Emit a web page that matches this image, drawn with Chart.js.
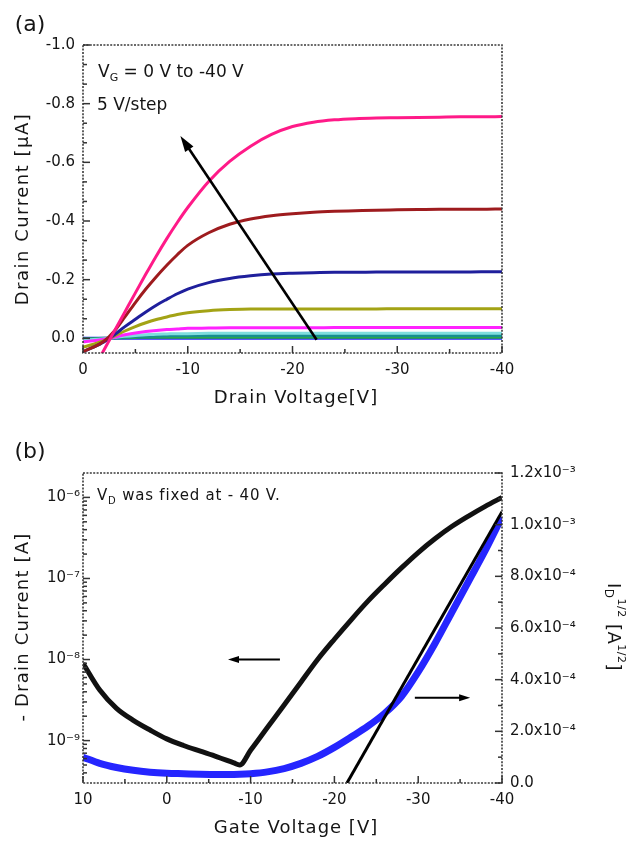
<!DOCTYPE html>
<html>
<head>
<meta charset="utf-8">
<script src="https://cdn.jsdelivr.net/npm/chart.js@4.4.1/dist/chart.umd.min.js"></script>
<style>
  html, body { margin: 0; padding: 0; background: #fff; overflow: hidden; }
  #wrap { position: relative; width: 635px; height: 843px; }
  canvas { position: absolute; left: 0; }
  #chartA { top: 0; }
  #chartB { top: 421px; }
</style>
</head>
<body>
<div id="wrap">
  <canvas id="chartA" width="635" height="421"></canvas>
  <canvas id="chartB" width="635" height="422"></canvas>
</div>
<script>
// ---------- panel (a): output curves, VG = 0 V .. -40 V ----------
const drainVoltage = [0, -1, -2, -3, -4, -5, -6, -7, -8, -9, -10, -12, -14, -16, -18, -20, -22, -24, -26, -28, -30, -32, -34, -36, -38, -40];
const idVg40 = [0.17, 0.105, 0.04, -0.025, -0.09, -0.155, -0.219, -0.281, -0.34, -0.395, -0.446, -0.535, -0.603, -0.655, -0.695, -0.722, -0.737, -0.745, -0.749, -0.751, -0.752, -0.753, -0.754, -0.755, -0.755, -0.756];
const idVg35 = [0.045, 0.03, 0.01, -0.025, -0.073, -0.122, -0.168, -0.21, -0.249, -0.285, -0.317, -0.36, -0.389, -0.407, -0.418, -0.425, -0.43, -0.433, -0.435, -0.437, -0.438, -0.439, -0.44, -0.44, -0.44, -0.441];
const idVg30 = [0.045, 0.03, 0.012, -0.012, -0.04, -0.065, -0.09, -0.113, -0.133, -0.152, -0.168, -0.19, -0.204, -0.213, -0.219, -0.222, -0.224, -0.225, -0.225, -0.226, -0.226, -0.226, -0.226, -0.226, -0.227, -0.227];
const idVg25 = [0.03, 0.02, 0.008, -0.008, -0.025, -0.04, -0.053, -0.064, -0.073, -0.081, -0.087, -0.094, -0.098, -0.1, -0.1, -0.1, -0.1, -0.1, -0.1, -0.1, -0.101, -0.101, -0.101, -0.101, -0.101, -0.101];
const idVg20 = [0.012, 0.008, 0.003, -0.004, -0.012, -0.018, -0.023, -0.027, -0.03, -0.032, -0.034, -0.035, -0.036, -0.036, -0.036, -0.036, -0.036, -0.037, -0.037, -0.037, -0.037, -0.037, -0.037, -0.037, -0.037, -0.037];
const idVg15 = [0.006, 0.004, 0.001, -0.003, -0.007, -0.01, -0.012, -0.014, -0.015, -0.016, -0.016, -0.017, -0.017, -0.017, -0.017, -0.017, -0.017, -0.017, -0.017, -0.017, -0.017, -0.017, -0.017, -0.017, -0.017, -0.017];
const idVg10 = [0.004, 0.003, 0.001, -0.002, -0.004, -0.006, -0.007, -0.008, -0.009, -0.01, -0.01, -0.01, -0.01, -0.01, -0.01, -0.01, -0.01, -0.01, -0.01, -0.01, -0.01, -0.01, -0.01, -0.01, -0.01, -0.01];
const idVg5 = [0.002, 0.001, 0.0, -0.001, -0.002, -0.003, -0.004, -0.004, -0.004, -0.004, -0.004, -0.004, -0.004, -0.004, -0.004, -0.004, -0.004, -0.004, -0.004, -0.004, -0.004, -0.004, -0.004, -0.004, -0.004, -0.004];
const idVg0 = [0.0, 0.0, 0.0, 0.0, 0.0, 0.0, 0.0, 0.0, 0.0, 0.0, 0.0, 0.0, 0.0, 0.0, 0.0, 0.0, 0.0, 0.0, 0.0, 0.0, 0.0, 0.0, 0.0, 0.0, 0.0, 0.0];
const drainTicks = [0, -10, -20, -30, -40];
const currentTicksA = [-1.0, -0.8, -0.6, -0.4, -0.2, 0.0];
const stepArrow = { fromV: -22.3, fromI: 0.005, toV: -9.3, toI: -0.69 };

// ---------- panel (b): transfer curve at VD = -40 V ----------
const gateVoltage = [10, 8, 6, 4, 2, 0, -2, -4, -6, -8, -8.7, -10, -12, -14, -16, -18, -20, -22, -24, -26, -28, -30, -32, -34, -36, -38, -40];
const drainCurrent = [9e-9, 4.2e-9, 2.5e-9, 1.78e-9, 1.35e-9, 1.05e-9, 8.7e-10, 7.4e-10, 6.3e-10, 5.3e-10, 5.0e-10, 7.6e-10, 1.45e-9, 2.75e-9, 5.25e-9, 1.0e-8, 1.78e-8, 3.09e-8, 5.25e-8, 8.5e-8, 1.35e-7, 2.09e-7, 3.09e-7, 4.37e-7, 5.89e-7, 7.76e-7, 1.0e-6];
const sqrtCurrent = [1.0e-4, 7.6e-5, 6.0e-5, 4.9e-5, 4.2e-5, 3.8e-5, 3.6e-5, 3.4e-5, 3.3e-5, 3.3e-5, 3.35e-5, 3.6e-5, 4.3e-5, 5.6e-5, 7.6e-5, 1.03e-4, 1.38e-4, 1.78e-4, 2.2e-4, 2.7e-4, 3.35e-4, 4.3e-4, 5.4e-4, 6.6e-4, 7.8e-4, 9.0e-4, 1.03e-3];
const fitGate = [-21.5, -40];
const fitSqrt = [0, 1.05e-3];
const gateTicks = [10, 0, -10, -20, -30, -40];
const logTicks = [1e-9, 1e-8, 1e-7, 1e-6];
const sqrtTicks = [0, 2e-4, 4e-4, 6e-4, 8e-4, 1.0e-3, 1.2e-3];
const leftArrow = { fromV: -13.5, toV: -7.3, current: 1.0e-8 };
const rightArrow = { fromV: -29.6, toV: -36.2, sqrtI: 3.3e-4 };

const FONT = '"DejaVu Sans", sans-serif';
const INK = '#151515';

const SUP = { '-': '\u207B', '0': '\u2070', '1': '\u00B9', '2': '\u00B2', '3': '\u00B3', '4': '\u2074', '5': '\u2075', '6': '\u2076', '7': '\u2077', '8': '\u2078', '9': '\u2079' };
const sup = s => String(s).split('').map(c => SUP[c] || c).join('');

const pts = (xs, ys) => xs.map((x, i) => ({ x: x, y: ys[i] }));

// text made of pieces: [text, size, dy]
function drawRich(ctx, x, y, parts, opt) {
  opt = opt || {};
  ctx.save();
  ctx.translate(x, y);
  if (opt.rotate) ctx.rotate(opt.rotate);
  ctx.letterSpacing = (opt.spacing || 0) + 'px';
  ctx.fillStyle = INK;
  ctx.textBaseline = opt.baseline || 'alphabetic';
  let w = 0;
  parts.forEach(p => { ctx.font = p[1] + 'px ' + FONT; w += ctx.measureText(p[0]).width; });
  let cx = opt.center ? -w / 2 : 0;
  parts.forEach(p => {
    ctx.font = p[1] + 'px ' + FONT;
    ctx.fillText(p[0], cx, p[2] || 0);
    cx += ctx.measureText(p[0]).width;
  });
  ctx.restore();
}

function tickMarks(ctx, scale, values, len, side) {
  const a = scale.chart.chartArea;
  values.forEach(v => {
    const p = scale.getPixelForValue(v);
    ctx.beginPath();
    if (side === 'bottom') { ctx.moveTo(p, a.bottom); ctx.lineTo(p, a.bottom - len); }
    if (side === 'left') { ctx.moveTo(a.left, p); ctx.lineTo(a.left + len, p); }
    if (side === 'right') { ctx.moveTo(a.right, p); ctx.lineTo(a.right - len, p); }
    ctx.stroke();
  });
}

function frame(ctx, a) {
  ctx.save();
  ctx.strokeStyle = '#3a3a3a';
  ctx.lineWidth = 1.6;
  ctx.setLineDash([2, 1.4]);
  ctx.strokeRect(a.left, a.top, a.right - a.left, a.bottom - a.top);
  ctx.restore();
}

function arrow(ctx, x1, y1, x2, y2, head, width, lw) {
  const ang = Math.atan2(y2 - y1, x2 - x1);
  ctx.save();
  ctx.strokeStyle = '#000';
  ctx.fillStyle = '#000';
  ctx.lineWidth = lw;
  ctx.beginPath();
  ctx.moveTo(x1, y1);
  ctx.lineTo(x2 - Math.cos(ang) * head * 0.7, y2 - Math.sin(ang) * head * 0.7);
  ctx.stroke();
  ctx.beginPath();
  ctx.moveTo(x2, y2);
  ctx.lineTo(x2 - head * Math.cos(ang) + width * Math.sin(ang), y2 - head * Math.sin(ang) - width * Math.cos(ang));
  ctx.lineTo(x2 - head * Math.cos(ang) - width * Math.sin(ang), y2 - head * Math.sin(ang) + width * Math.cos(ang));
  ctx.closePath();
  ctx.fill();
  ctx.restore();
}

const tickFont = { family: FONT, size: 15 };

const decorA = {
  id: 'decorA',
  afterDatasetsDraw(chart) {
    const ctx = chart.ctx, a = chart.chartArea;
    const x = chart.scales.x, y = chart.scales.y;
    frame(ctx, a);
    ctx.save();
    ctx.strokeStyle = '#333';
    ctx.lineWidth = 1.5;
    tickMarks(ctx, x, drainTicks, 7, 'bottom');
    const minorX = [], minorY = [];
    for (let v = -5; v > -40; v -= 10) minorX.push(v);
    for (let i = 1; i < 15; i++) if (i % 3) minorY.push(-1 + i / 15);
    tickMarks(ctx, x, minorX, 4, 'bottom');
    tickMarks(ctx, y, currentTicksA, 7, 'left');
    tickMarks(ctx, y, minorY, 4, 'left');
    ctx.restore();

    arrow(ctx, x.getPixelForValue(stepArrow.fromV), y.getPixelForValue(stepArrow.fromI),
      x.getPixelForValue(stepArrow.toV), y.getPixelForValue(stepArrow.toI), 16, 5, 2.6);

    drawRich(ctx, 30, 25, [['(a)', 22]], { center: true, baseline: 'middle' });
    drawRich(ctx, 98, 77, [['V', 17], ['G', 11, 4], [' = 0 V to -40 V', 17]]);
    drawRich(ctx, 97, 110, [['5 V/step', 17]]);
    drawRich(ctx, 23, 209, [['Drain Current [\u00B5A]', 18]], { center: true, baseline: 'middle', rotate: -Math.PI / 2, spacing: 1.5 });
    drawRich(ctx, 296, 398, [['Drain Voltage[V]', 18]], { center: true, baseline: 'middle', spacing: 1 });
  }
};

const curvesA = [
  { data: idVg40, color: '#ff1a88' },
  { data: idVg35, color: '#9e1b1e' },
  { data: idVg30, color: '#1f1f9c' },
  { data: idVg25, color: '#a3a315' },
  { data: idVg20, color: '#ff22ff' },
  { data: idVg15, color: '#7fdede' },
  { data: idVg10, color: '#178f8f' },
  { data: idVg5, color: '#2aa84a' },
  { data: idVg0, color: '#2323ff' }
];

new Chart(document.getElementById('chartA'), {
  type: 'line',
  data: {
    datasets: curvesA.map(c => ({
      data: pts(drainVoltage, c.data),
      borderColor: c.color,
      borderWidth: 3,
      pointRadius: 0,
      cubicInterpolationMode: 'monotone'
    }))
  },
  options: {
    responsive: false,
    animation: false,
    devicePixelRatio: 1,
    layout: { padding: { top: 45, right: 133, left: 0, bottom: 0 } },
    plugins: { legend: { display: false }, tooltip: { enabled: false } },
    scales: {
      x: {
        type: 'linear', min: -40, max: 0, reverse: true,
        grid: { display: false, drawTicks: false }, border: { display: false },
        afterBuildTicks: s => { s.ticks = drainTicks.map(v => ({ value: v })); },
        afterFit: s => { s.height = 68; },
        ticks: { padding: 8, font: tickFont, color: INK, maxRotation: 0, autoSkip: false, callback: v => String(v) }
      },
      y: {
        type: 'linear', min: -1.0, max: 0.05, reverse: true,
        grid: { display: false, drawTicks: false }, border: { display: false },
        afterBuildTicks: s => { s.ticks = currentTicksA.map(v => ({ value: v })); },
        afterFit: s => { s.width = 83; },
        ticks: { padding: 8, font: tickFont, color: INK, autoSkip: false, callback: v => v.toFixed(1) }
      }
    }
  },
  plugins: [decorA]
});

const decorB = {
  id: 'decorB',
  afterDatasetsDraw(chart) {
    const ctx = chart.ctx, a = chart.chartArea;
    const x = chart.scales.x, yl = chart.scales.y, yr = chart.scales.y2;
    frame(ctx, a);
    ctx.save();
    ctx.strokeStyle = '#333';
    ctx.lineWidth = 1.5;
    const minorX = [], minorLog = [], minorR = [];
    for (let v = 5; v > -40; v -= 10) minorX.push(v);
    for (let e = -10; e <= -6; e++) for (let m = 2; m <= 9; m++) {
      const v = m * Math.pow(10, e);
      if (v > yl.min && v < yl.max) minorLog.push(v);
    }
    for (let i = 1; i < 12; i += 2) minorR.push(i * 1e-4);
    tickMarks(ctx, x, gateTicks, 7, 'bottom');
    tickMarks(ctx, x, minorX, 4, 'bottom');
    tickMarks(ctx, yl, logTicks, 7, 'left');
    tickMarks(ctx, yl, minorLog, 4, 'left');
    tickMarks(ctx, yr, sqrtTicks, 7, 'right');
    tickMarks(ctx, yr, minorR, 4, 'right');
    ctx.restore();

    const ly = yl.getPixelForValue(leftArrow.current);
    arrow(ctx, x.getPixelForValue(leftArrow.fromV), ly, x.getPixelForValue(leftArrow.toV), ly, 11, 3.5, 2);
    const ry = yr.getPixelForValue(rightArrow.sqrtI);
    arrow(ctx, x.getPixelForValue(rightArrow.fromV), ry, x.getPixelForValue(rightArrow.toV), ry, 11, 3.5, 2);

    drawRich(ctx, 30, 31, [['(b)', 22]], { center: true, baseline: 'middle' });
    drawRich(ctx, 97, 79, [['V', 15], ['D', 10, 4], [' was fixed at - 40 V.', 15]], { spacing: 0.8 });
    drawRich(ctx, 23, 206, [['- Drain Current [A]', 18]], { center: true, baseline: 'middle', rotate: -Math.PI / 2, spacing: 1.2 });
    drawRich(ctx, 296, 407, [['Gate Voltage [V]', 18]], { center: true, baseline: 'middle', spacing: 1 });
    drawRich(ctx, 613, 206, [['I', 18], ['D', 12, 5], ['1/2', 11, -8], [' [A', 18], ['1/2', 11, -8], [']', 18]],
      { center: true, baseline: 'middle', rotate: Math.PI / 2, spacing: 0.5 });
  }
};

new Chart(document.getElementById('chartB'), {
  type: 'line',
  data: {
    datasets: [
      { data: pts(fitGate, fitSqrt), yAxisID: 'y2', borderColor: '#000', borderWidth: 3, pointRadius: 0 },
      { data: pts(gateVoltage, sqrtCurrent), yAxisID: 'y2', borderColor: '#2525ff', borderWidth: 7, pointRadius: 0, cubicInterpolationMode: 'monotone' },
      { data: pts(gateVoltage, drainCurrent), yAxisID: 'y', borderColor: '#111', borderWidth: 5, pointRadius: 0, cubicInterpolationMode: 'monotone' }
    ]
  },
  options: {
    responsive: false,
    animation: false,
    devicePixelRatio: 1,
    layout: { padding: { top: 52, right: 0, left: 0, bottom: 0 } },
    plugins: { legend: { display: false }, tooltip: { enabled: false } },
    scales: {
      x: {
        type: 'linear', min: -40, max: 10, reverse: true,
        grid: { display: false, drawTicks: false }, border: { display: false },
        afterBuildTicks: s => { s.ticks = gateTicks.map(v => ({ value: v })); },
        afterFit: s => { s.height = 60; },
        ticks: { padding: 8, font: tickFont, color: INK, maxRotation: 0, autoSkip: false, callback: v => String(v) }
      },
      y: {
        type: 'logarithmic', position: 'left', min: 3e-10, max: 2e-6,
        grid: { display: false, drawTicks: false }, border: { display: false },
        afterBuildTicks: s => { s.ticks = logTicks.map(v => ({ value: v })); },
        afterFit: s => { s.width = 83; },
        ticks: { padding: 3, font: tickFont, color: INK, autoSkip: false, callback: v => '10' + sup(Math.round(Math.log10(v))) }
      },
      y2: {
        type: 'linear', position: 'right', min: 0, max: 1.2e-3,
        grid: { display: false, drawTicks: false }, border: { display: false },
        afterBuildTicks: s => { s.ticks = sqrtTicks.map(v => ({ value: v })); },
        afterFit: s => { s.width = 133; },
        ticks: {
          padding: 8, font: tickFont, color: INK, autoSkip: false,
          callback: v => {
            if (v === 0) return '0.0';
            const parts = v.toExponential(1).split('e');
            return parts[0] + 'x10' + sup(parseInt(parts[1], 10));
          }
        }
      }
    }
  },
  plugins: [decorB]
});
</script>
</body>
</html>
